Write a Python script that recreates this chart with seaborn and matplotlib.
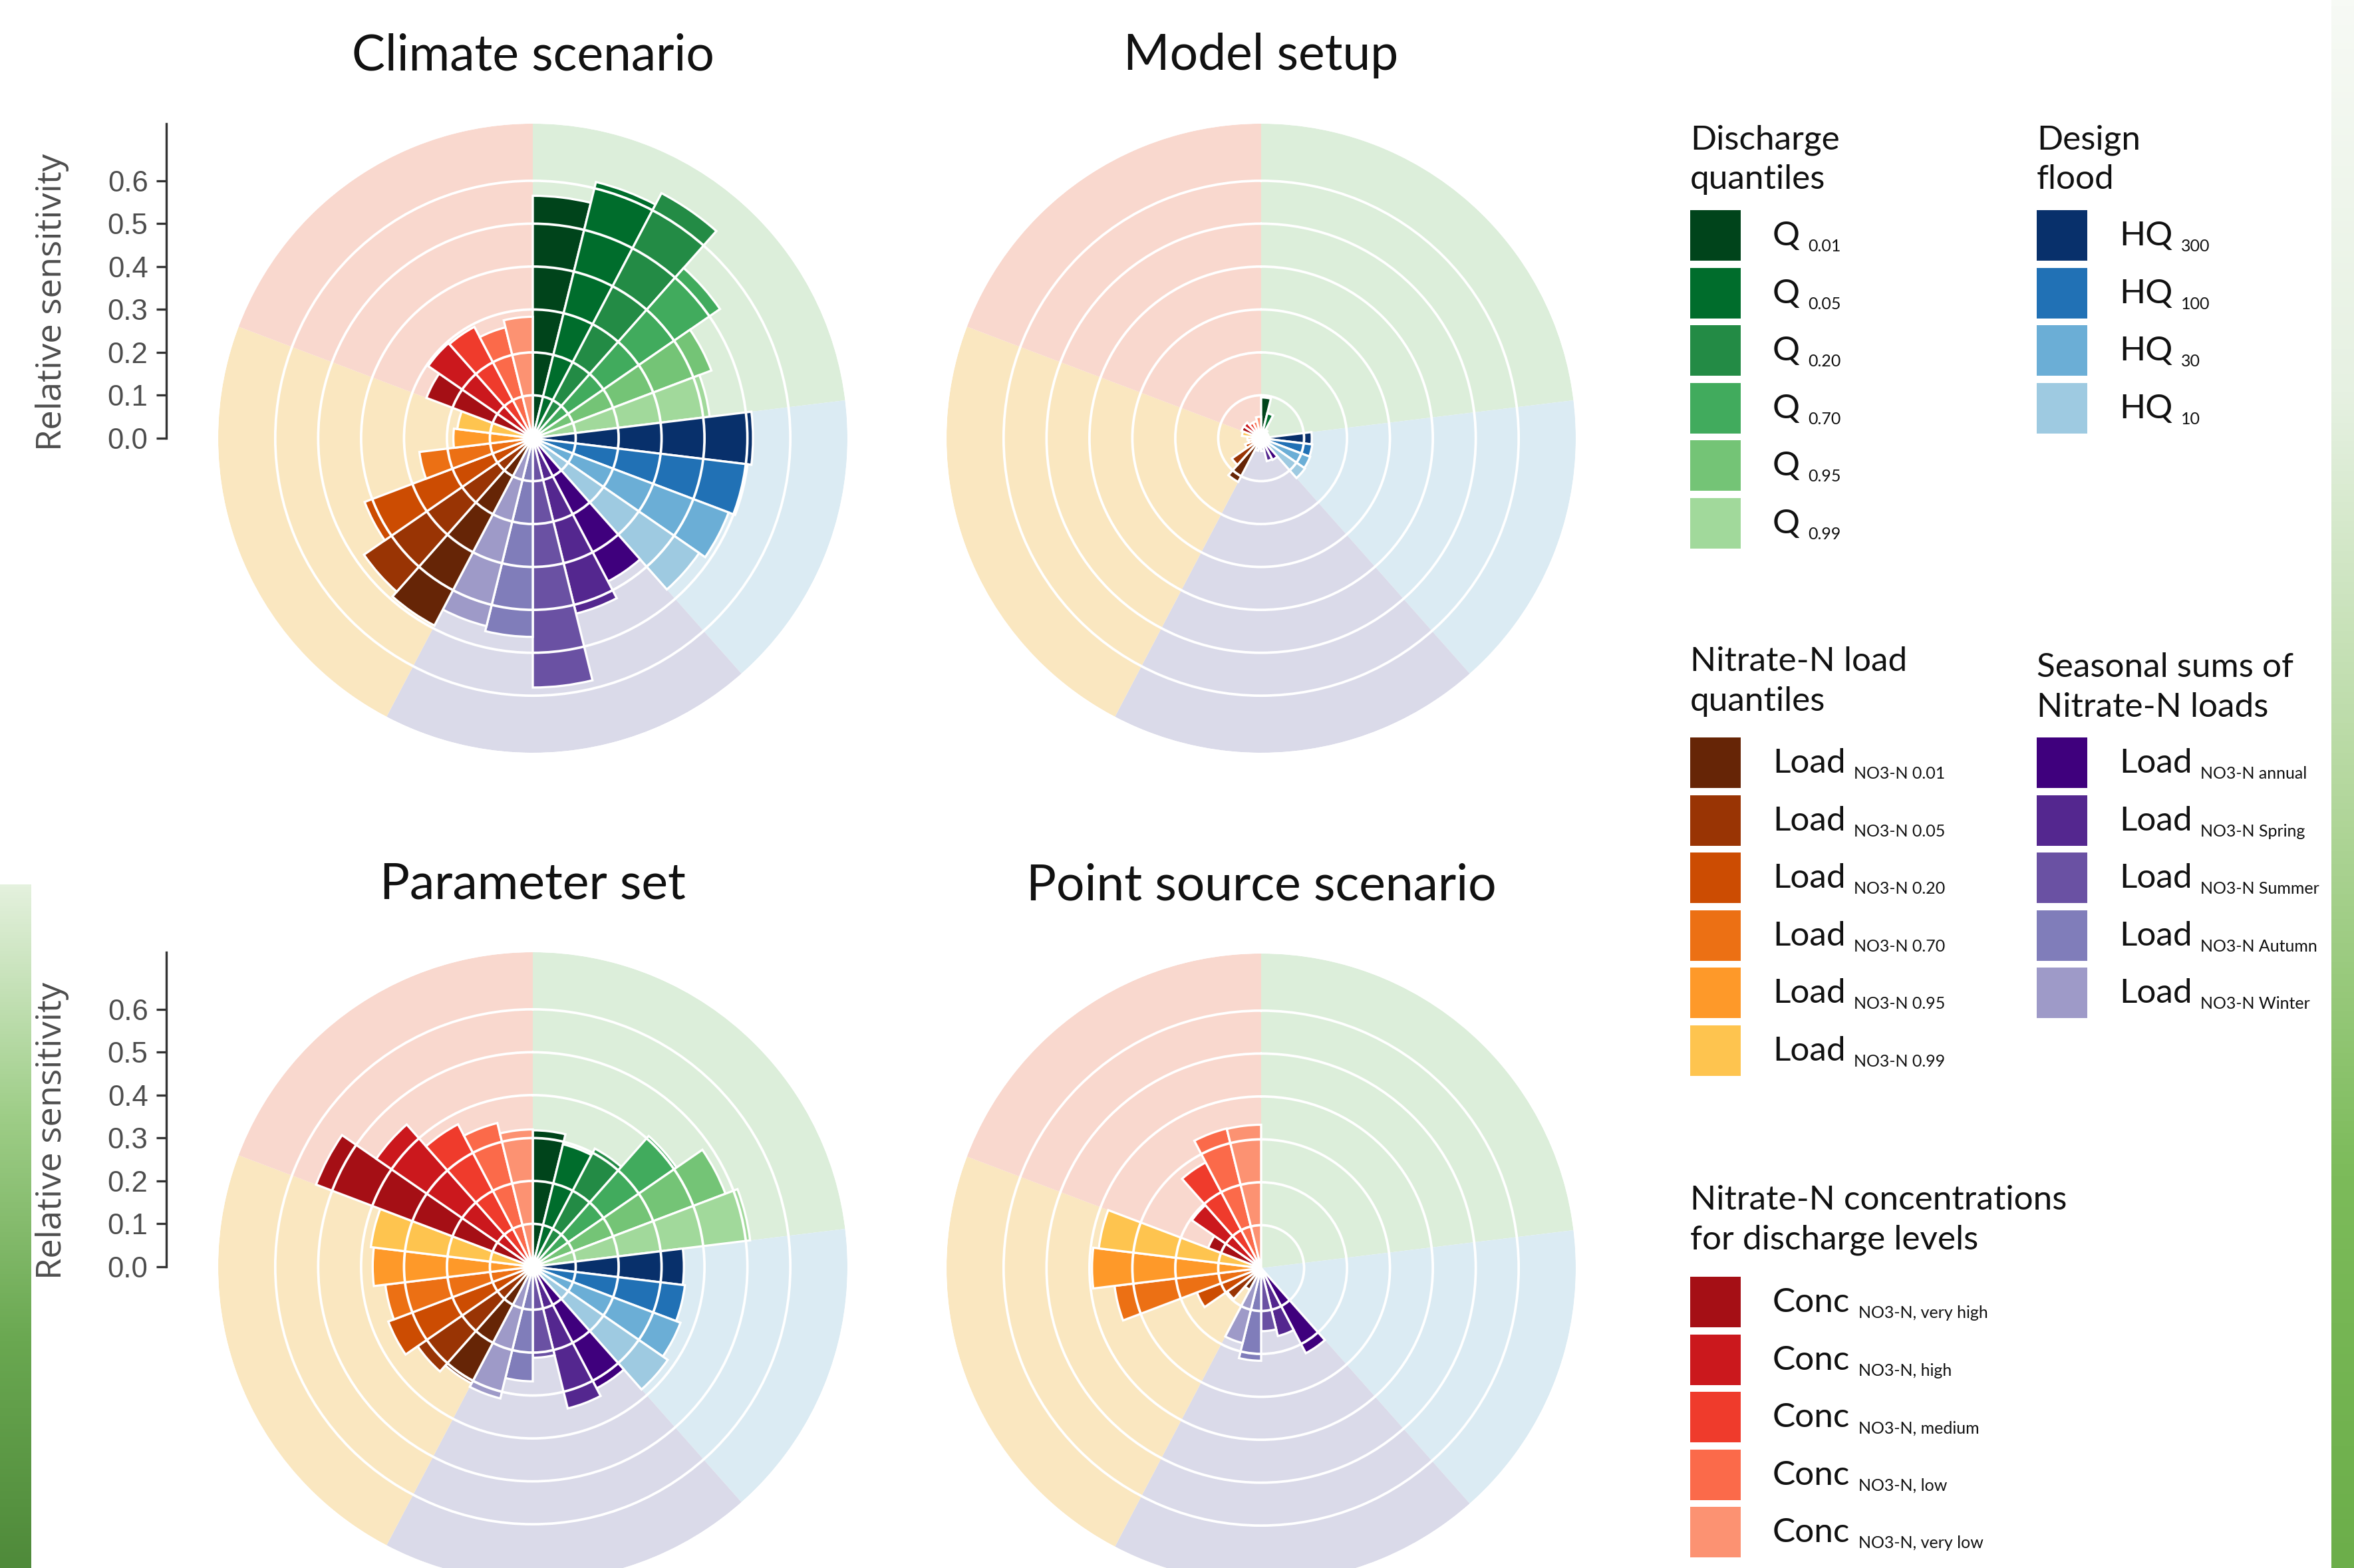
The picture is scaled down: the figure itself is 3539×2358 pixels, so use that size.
import numpy as np
import matplotlib.pyplot as plt
import seaborn as sns
from matplotlib.patches import Rectangle
from matplotlib.colors import LinearSegmentedColormap

# ---------------- data ----------------
# legend sub labels per group
q_labels = ['0.01', '0.05', '0.20', '0.70', '0.95', '0.99']
hq_labels = ['300', '100', '30', '10']
season_labels = ['NO3-N annual', 'NO3-N Spring', 'NO3-N Summer', 'NO3-N Autumn', 'NO3-N Winter']
load_labels = ['NO3-N 0.01', 'NO3-N 0.05', 'NO3-N 0.20', 'NO3-N 0.70', 'NO3-N 0.95', 'NO3-N 0.99']
conc_labels = ['NO3-N, very high', 'NO3-N, high', 'NO3-N, medium', 'NO3-N, low', 'NO3-N, very low']

greens = ['#00441b', '#006d2c', '#238b45', '#41ab5d', '#74c476', '#a1d99b']
blues = ['#08306b', '#2171b5', '#6baed6', '#9ecae1']
purples = ['#3f007d', '#54278f', '#6a51a3', '#807dba', '#9e9ac8']
oranges = ['#662506', '#993404', '#cc4c02', '#ec7014', '#fe9929', '#fec44f']
reds = ['#a50f15', '#cb181d', '#ef3b2c', '#fb6a4a', '#fc9272']

# groups clockwise from 12 o'clock: discharge, design flood, seasonal, load, conc
group_sizes = [6, 4, 5, 6, 5]
group_bg = ['#dceeda', '#dbebf3', '#dadae9', '#fae7c0', '#f9d8ce']

# relative sensitivity, same order as above (26 values each)
climate = [0.565, 0.615, 0.645, 0.53, 0.445, 0.415,
           0.513, 0.504, 0.488, 0.471,
           0.377, 0.421, 0.581, 0.463, 0.451,
           0.493, 0.478, 0.419, 0.266, 0.185, 0.177,
           0.265, 0.296, 0.293, 0.266, 0.283]
model_setup = [0.095, 0.06, 0.022, 0.018, 0.015, 0.018,
               0.118, 0.12, 0.122, 0.124,
               0.057, 0.055, 0.03, 0.025, 0.03,
               0.115, 0.083, 0.04, 0.03, 0.032, 0.045,
               0.049, 0.049, 0.041, 0.041, 0.05]
parameter_set = [0.318, 0.294, 0.311, 0.407, 0.48, 0.51,
                 0.352, 0.357, 0.368, 0.382,
                 0.32, 0.34, 0.212, 0.267, 0.316,
                 0.307, 0.326, 0.36, 0.346, 0.373, 0.38,
                 0.54, 0.443, 0.375, 0.345, 0.32]
point_source = [0, 0, 0, 0, 0, 0,
                0, 0, 0, 0,
                0.224, 0.163, 0.147, 0.216, 0.18,
                0.057, 0.096, 0.16, 0.344, 0.394, 0.381,
                0.132, 0.196, 0.278, 0.335, 0.334]

RMAX = 0.733

# ---------------- style ----------------
sns.set_theme(style='white')
plt.rcParams['font.family'] = ['Lato', 'DejaVu Sans']

W, H = 3539, 2358
fig = plt.figure(figsize=(W / 300, H / 300), dpi=300)
fig.patch.set_facecolor('white')


def frac(x, y):
    return x / W, 1 - y / H


# decorative green strips at the figure edges
def strip(x0, y0, x1, y1, stops):
    a = fig.add_axes([x0 / W, 1 - y1 / H, (x1 - x0) / W, (y1 - y0) / H])
    a.axis('off')
    cm = LinearSegmentedColormap.from_list('s', stops)
    a.imshow(np.linspace(0, 1, 256)[:, None], aspect='auto', cmap=cm)


strip(3505, 0, W, H, ['#f7faf5', '#e6f1e2', '#b5d89f', '#7cbb5a', '#6cae4a'])
strip(0, 1330, 47, H, ['#e4f1de', '#9fce88', '#6aa851', '#4f8a3a'])

# legend layer
lg = fig.add_axes([0, 0, 1, 1])
lg.set_xlim(0, W)
lg.set_ylim(H, 0)
lg.axis('off')
lg.patch.set_alpha(0)

colors = greens + blues + purples + oranges + reds
colors = sns.color_palette(colors)
n = len(colors)
step = 2 * np.pi / n
theta = np.arange(n) * step + step / 2

starts = np.cumsum([0] + group_sizes[:-1])
g_theta = (starts + np.array(group_sizes) / 2) * step
g_width = np.array(group_sizes) * step

panels = [
    ('Climate scenario', climate, 801, 659, True),
    ('Model setup', model_setup, 1896, 659, False),
    ('Parameter set', parameter_set, 801, 1905, True),
    ('Point source scenario', point_source, 1896, 1907, False),
]
R_PX = 473

for title, vals, cx, cy, show_axis in panels:
    rect = [(cx - R_PX) / W, 1 - (cy + R_PX) / H, 2 * R_PX / W, 2 * R_PX / H]
    ax = fig.add_axes(rect, projection='polar')
    ax.set_theta_zero_location('N')
    ax.set_theta_direction(-1)
    ax.bar(g_theta, [RMAX] * len(group_sizes), width=g_width, color=group_bg,
           linewidth=0, zorder=0.5)
    ax.bar(theta, vals, width=step, color=colors, edgecolor='white',
           linewidth=0.8, zorder=1)
    ax.set_ylim(0, RMAX)
    ax.set_yticks(np.arange(0.1, 0.61, 0.1))
    ax.set_yticklabels([])
    ax.set_xticks([])
    ax.yaxis.grid(True, color='white', linewidth=0.9)
    ax.xaxis.grid(False)
    ax.set_axisbelow(False)
    ax.spines['polar'].set_visible(False)
    ax.patch.set_alpha(0)

    tx, ty = frac(cx, cy - 575)
    fig.text(tx, ty, title, ha='center', va='center', fontsize=18, color='#111111')

    if show_axis:
        ax2 = fig.add_axes(rect)
        ax2.patch.set_alpha(0)
        ax2.set_ylim(-RMAX, RMAX)
        ax2.set_xticks([])
        sns.despine(ax=ax2, top=True, right=True, bottom=True, left=False)
        ax2.spines['left'].set_position(('outward', 18.7))
        ax2.spines['left'].set_bounds(0, RMAX)
        ax2.spines['left'].set_color('#333333')
        ax2.spines['left'].set_linewidth(0.8)
        ax2.set_yticks(np.arange(0, 0.61, 0.1))
        ax2.set_yticklabels(['%.1f' % v for v in np.arange(0, 0.61, 0.1)],
                            family=['Liberation Sans', 'DejaVu Sans'],
                            fontsize=10.5, color='#4d4d4d')
        ax2.tick_params(axis='y', left=True, length=3.6, width=0.8,
                        color='#333333', pad=3)
        lx, ly = frac(79, cy - 204)
        fig.text(lx, ly, 'Relative sensitivity', rotation=90, ha='center',
                 va='center', fontsize=12.6, color='#4d4d4d',
                 family=['Open Sans', 'DejaVu Sans'])

# ---------------- legend ----------------
blocks = [
    (['Discharge', 'quantiles'], 'Q', q_labels, greens, 2541, 224, 316),
    (['Design', 'flood'], 'HQ', hq_labels, blues, 3062, 224, 316),
    (['Nitrate-N load', 'quantiles'], 'Load', load_labels, oranges, 2541, 1009, 1109),
    (['Seasonal sums of', 'Nitrate-N loads'], 'Load', season_labels, purples, 3062, 1018, 1109),
    (['Nitrate-N concentrations', 'for discharge levels'], 'Conc', conc_labels, reds, 2541, 1819, 1920),
]
SQ = 76
DY = 86.6
for head, main, subs, cols, x, hy, top in blocks:
    for k, line in enumerate(head):
        lg.text(x, hy + k * 60, line, fontsize=12.3, va='baseline', ha='left', color='#111111')
    for i, (s, c) in enumerate(zip(subs, cols)):
        y = top + i * DY
        lg.add_patch(Rectangle((x, y), SQ, SQ, facecolor=c, edgecolor='none'))
        t = lg.text(x + 124, y + 53, main, fontsize=12.3, va='baseline', ha='left', color='#111111')
        lg.annotate(s, xy=(1, 0), xycoords=t, xytext=(3, 0), textcoords='offset points',
                    fontsize=6, va='baseline', ha='left', color='#111111')

fig.savefig('out.png', dpi=300)
